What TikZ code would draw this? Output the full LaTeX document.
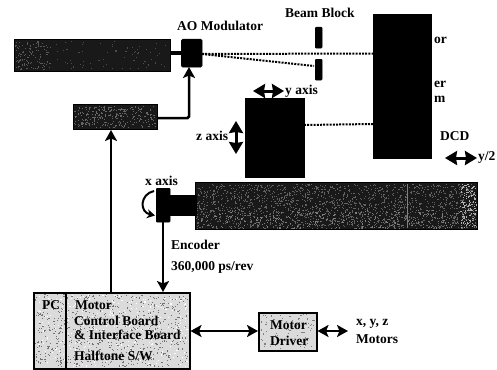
\documentclass[tikz,border=0pt]{standalone}
\usepackage{fontspec}
\setmainfont{Liberation Serif}
\usetikzlibrary{arrows.meta,positioning}
\tikzset{
  x=1pt,y=-1pt,
  solidbox/.style={draw=black,fill=black,inner sep=0pt,anchor=north west},
  darkbox/.style={draw=black,line width=1pt,fill=black!90,inner sep=0pt,anchor=north west},
  lightbox/.style={draw=black,line width=1.5pt,fill=black!14,inner sep=0pt,anchor=north west},
  lab/.style={font=\bfseries\fontsize{13.5}{15}\selectfont,inner sep=0pt,anchor=west,text=black},
  conn/.style={line width=2.5pt,black},
  arr/.style={conn,-{Stealth[length=11pt,width=12pt,inset=2.5pt]}},
  darr/.style={conn,{Stealth[length=11pt,width=12pt,inset=2.5pt]}-{Stealth[length=11pt,width=12pt,inset=2.5pt]}},
  axisarr/.style={line width=3pt,black,{Stealth[length=12pt,width=14pt,inset=1pt]}-{Stealth[length=12pt,width=14pt,inset=1pt]}},
  beam/.style={line width=2pt,dash pattern=on 2pt off 1.2pt,black}
}
\newcommand{\speckle}[6]{%
  \foreach \i in {1,...,#5}{%
    \pgfmathsetmacro{\px}{#1+rnd*(#3-#1)}%
    \pgfmathsetmacro{\py}{#2+rnd*(#4-#2)}%
    \fill[#6] (\px,\py) rectangle ++(1.1,1.1);
  }%
}
\begin{document}
\begin{tikzpicture}
\pgfmathsetseed{7}
\useasboundingbox (0,0) rectangle (497,369);
% boxes
\node[darkbox,minimum width=156pt,minimum height=32pt] (laser) at (14,39) {};
\speckle{15}{41}{50}{69}{110}{black!65}
\speckle{50}{41}{168}{69}{70}{black!70}
\node[solidbox,rounded corners=1.5pt,minimum width=21pt,minimum height=28pt] (aom) at (181,39) {};
\node[darkbox,minimum width=84pt,minimum height=25pt] (driver) at (73,104) {};
\speckle{74}{106}{155}{127}{260}{black!60}
\node[solidbox,minimum width=7pt,minimum height=21pt,rounded corners=1pt] (blockA) at (315,27) {};
\node[solidbox,minimum width=7pt,minimum height=21pt,rounded corners=1pt] (blockB) at (315,59) {};
\node[solidbox,minimum width=58pt,minimum height=144pt] (mirror) at (373,14) {};
\node[solidbox,minimum width=59pt,minimum height=79pt] (carriage) at (245,98) {};
\node[darkbox,minimum width=282pt,minimum height=47pt] (table) at (195,182) {};
\speckle{196}{184}{476}{228}{1700}{black!62}
\speckle{196}{210}{476}{228}{300}{black!50}
\speckle{460}{184}{476}{228}{130}{black!30}
\fill[black!50] (407,184) rectangle (408,228);
\node[solidbox,minimum width=14pt,minimum height=34pt,rounded corners=1pt] (motor) at (156,188) {};
\node[solidbox,minimum width=26pt,minimum height=20pt] (shaft) at (169.5,195) {};
\node[lightbox,minimum width=156pt,minimum height=76pt] (pc) at (33,292) {};
\speckle{35}{294}{187}{366}{750}{black!55}
\speckle{35}{294}{187}{366}{300}{white}
\node[lightbox,minimum width=58pt,minimum height=38pt] (mdrv) at (258,312) {};
\speckle{260}{314}{314}{348}{90}{black!50}
% connectors
\coordinate (pcA) at (111,292);
\coordinate (drvB) at (111,130);
\coordinate (pcE) at (163,292);
\coordinate (motB) at (163,222);
\coordinate (drvR) at (157,118);
\coordinate (aomB) at (189,67);
\coordinate (elb) at (189,118);
\coordinate (mirA) at (373,53.5);
\coordinate (mirB) at (373,124);
\coordinate (aomR) at (202,54);
\coordinate (carR) at (304,125);
\coordinate (blkL) at (314,66);
\draw[conn,line width=3.5pt] (laser.east |- 0,53) -- (aom.west |- 0,53);
\draw[arr,rounded corners=1.5pt] (drvR) -- (elb) -- (aomB);
\draw[arr] (pcA) -- (drvB);
\draw[arr] (motB) -- (pcE);
\draw[beam] (aomR) -- (mirA);
\draw[beam] (aomR) -- (blkL);
\draw[beam] (carR) -- (mirB);
\draw[darr] (pc.east |- 0,331) -- (mdrv.west |- 0,331);
\coordinate (mout) at (348,331);
\draw[darr] (mdrv.east |- 0,331) -- (mout);
% axis arrows
\coordinate (yL) at (253,91); \coordinate (yR) at (284,91);
\draw[axisarr] (yL) -- (yR);
\coordinate (zT) at (236,121); \coordinate (zB) at (236,154);
\draw[axisarr] (zT) -- (zB);
\coordinate (y2L) at (445,158); \coordinate (y2R) at (477,158);
\draw[axisarr] (y2L) -- (y2R);
\draw[line width=2pt,-{Stealth[length=8pt,width=9pt]}] (154,191) .. controls (140,194) and (139,212) .. (155,215.5);
% labels
\node[lab] (tAO) at (177,26) {AO Modulator};
\node[lab] (tBB) at (285,13) {Beam Block};
\node[lab] (tor) at (434,40) {or};
\node[lab] (ter) at (434,84) {er};
\node[lab] (tam) at (434,99) {m};
\node[lab] (ty) at (285,91) {y axis};
\node[lab] (tz) at (196,136) {z axis};
\node[lab] (tx) at (145,181) {x axis};
\node[lab] (tdcd) at (440,136) {DCD};
\node[lab] (ty2) at (478,157) {y/2};
\node[lab] (tenc) at (171,245) {Encoder};
\node[lab] (trev) at (171,267) {360,000 ps/rev};
\node[lab] (tpc) at (42,305) {PC};
\node[lab] (tm1) at (75,305) {Motor};
\node[lab] (tm2) at (74,321) {Control Board};
\node[lab] (tm3) at (74,335) {\&\ Interface Board};
\node[lab] (tm4) at (74,356) {Halftone S/W};
\draw[line width=1.2pt] (66,292) -- (66,368);
\node[lab] (td1) at (270,325) {Motor};
\node[lab] (td2) at (270,341) {Driver};
\node[lab] (tx1) at (356,324) {x, y, z};
\node[lab] (tx2) at (356,339) {Motors};
\end{tikzpicture}
\end{document}
